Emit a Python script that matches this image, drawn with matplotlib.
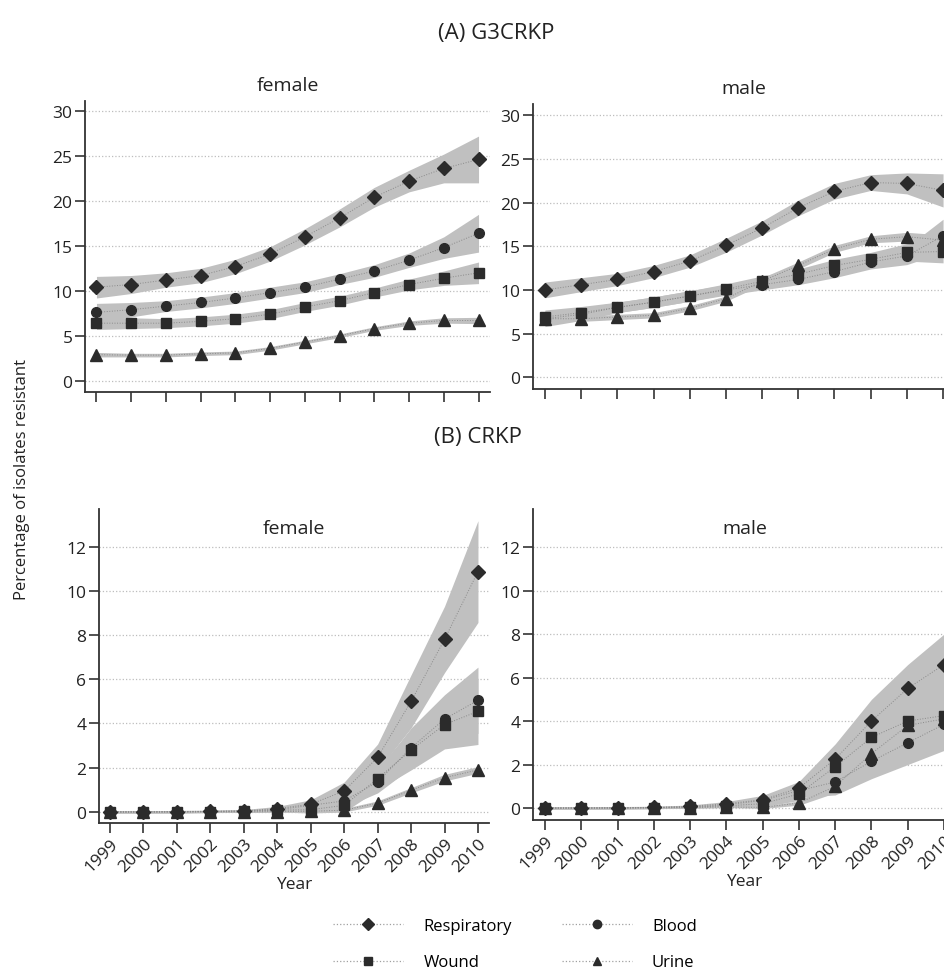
import matplotlib.pyplot as plt
from matplotlib.lines import Line2D
import numpy as np

plt.rcParams['font.family'] = ['Open Sans', 'DejaVu Sans']

years = np.arange(1999, 2011)
series = ['Respiratory', 'Blood', 'Wound', 'Urine']
markers = {'Respiratory': 'D', 'Blood': 'o', 'Wound': 's', 'Urine': '^'}
msizes = {'Respiratory': 7, 'Blood': 7, 'Wound': 7, 'Urine': 8}

# (A) G3CRKP, female
g3_f_resp = [10.4, 10.7, 11.2, 11.7, 12.7, 14.1, 16.0, 18.1, 20.4, 22.2, 23.6, 24.6]
g3_f_blood = [7.6, 7.9, 8.3, 8.7, 9.2, 9.8, 10.4, 11.3, 12.2, 13.4, 14.8, 16.4]
g3_f_wound = [6.4, 6.4, 6.4, 6.6, 6.9, 7.4, 8.2, 8.9, 9.8, 10.7, 11.4, 12.0]
g3_f_urine = [2.9, 2.85, 2.85, 3.0, 3.1, 3.6, 4.3, 5.0, 5.8, 6.4, 6.7, 6.7]
# half-widths of the shaded bands
g3_f_resp_w = [1.2, 1.0, 0.8, 0.8, 0.8, 0.8, 0.9, 1.0, 1.1, 1.2, 1.6, 2.6]
g3_f_blood_w = [1.0, 0.8, 0.6, 0.6, 0.6, 0.6, 0.6, 0.6, 0.7, 0.8, 1.2, 2.1]
g3_f_wound_w = [0.7, 0.6, 0.5, 0.5, 0.5, 0.5, 0.5, 0.5, 0.5, 0.6, 0.8, 1.2]
g3_f_urine_w = [0.25, 0.2, 0.2, 0.2, 0.2, 0.2, 0.2, 0.2, 0.2, 0.25, 0.3, 0.35]

# (A) G3CRKP, male
g3_m_resp = [10.0, 10.6, 11.2, 12.1, 13.3, 15.1, 17.1, 19.4, 21.3, 22.3, 22.2, 21.4]
g3_m_blood = [6.7, 7.2, 8.0, 8.6, 9.3, 10.0, 10.6, 11.2, 12.1, 13.2, 13.9, 16.2]
g3_m_wound = [6.9, 7.4, 8.0, 8.6, 9.3, 10.1, 11.0, 11.8, 12.8, 13.5, 14.3, 14.4]
g3_m_urine = [6.7, 6.7, 6.9, 7.1, 7.9, 9.0, 11.0, 12.8, 14.7, 15.8, 16.1, 15.7]
g3_m_resp_w = [0.9, 0.8, 0.7, 0.7, 0.7, 0.8, 0.8, 0.9, 0.9, 0.9, 1.2, 1.9]
g3_m_blood_w = [0.9, 0.7, 0.6, 0.6, 0.6, 0.6, 0.6, 0.6, 0.7, 0.8, 1.0, 1.9]
g3_m_wound_w = [0.8, 0.7, 0.6, 0.6, 0.6, 0.6, 0.6, 0.6, 0.7, 0.8, 1.0, 1.3]
g3_m_urine_w = [0.4, 0.3, 0.3, 0.3, 0.3, 0.3, 0.4, 0.4, 0.4, 0.4, 0.5, 0.6]

# (B) CRKP, female
cr_f_resp = [0.0, 0.0, 0.02, 0.03, 0.05, 0.15, 0.35, 0.95, 2.47, 5.0, 7.8, 10.87]
cr_f_blood = [0.0, 0.0, 0.0, 0.02, 0.04, 0.1, 0.3, 0.5, 1.36, 2.9, 4.2, 5.05]
cr_f_wound = [0.0, 0.0, 0.0, 0.02, 0.03, 0.08, 0.1, 0.3, 1.5, 2.8, 3.95, 4.55]
cr_f_urine = [0.0, 0.0, 0.0, 0.0, 0.0, 0.02, 0.03, 0.08, 0.4, 0.98, 1.55, 1.9]
cr_f_resp_w = [0.05, 0.05, 0.05, 0.05, 0.06, 0.1, 0.2, 0.4, 0.6, 1.2, 1.5, 2.3]
cr_f_blood_w = [0.05, 0.05, 0.05, 0.05, 0.05, 0.08, 0.15, 0.3, 0.5, 0.9, 1.1, 1.5]
cr_f_wound_w = [0.05, 0.05, 0.05, 0.05, 0.05, 0.08, 0.15, 0.3, 0.5, 0.9, 1.1, 1.5]
cr_f_urine_w = [0.02, 0.02, 0.02, 0.02, 0.02, 0.03, 0.05, 0.08, 0.1, 0.12, 0.15, 0.15]

# (B) CRKP, male
cr_m_resp = [0.0, 0.0, 0.02, 0.03, 0.08, 0.2, 0.38, 0.92, 2.25, 4.0, 5.5, 6.6]
cr_m_blood = [0.0, 0.0, 0.0, 0.02, 0.05, 0.15, 0.35, 0.8, 1.2, 2.15, 3.0, 3.85]
cr_m_wound = [0.0, 0.0, 0.0, 0.02, 0.04, 0.1, 0.2, 0.65, 1.9, 3.25, 4.0, 4.25]
cr_m_urine = [0.0, 0.0, 0.0, 0.0, 0.02, 0.05, 0.03, 0.23, 1.0, 2.5, 3.8, 4.1]
cr_m_resp_w = [0.05, 0.05, 0.05, 0.05, 0.06, 0.1, 0.2, 0.3, 0.7, 1.0, 1.1, 1.4]
cr_m_blood_w = [0.05, 0.05, 0.05, 0.05, 0.05, 0.08, 0.15, 0.3, 0.6, 0.8, 1.0, 1.2]
cr_m_wound_w = [0.05, 0.05, 0.05, 0.05, 0.05, 0.08, 0.15, 0.3, 0.6, 0.8, 1.0, 1.2]
cr_m_urine_w = [0.02, 0.02, 0.02, 0.02, 0.02, 0.03, 0.05, 0.1, 0.3, 0.6, 0.9, 1.2]

panels = [
    {'title': 'female', 'pos': [85/945, 1-393/970, 405/945, 291/970],
     'ylim': (-1.25, 31.1), 'yticks': [0, 5, 10, 15, 20, 25, 30], 'xlabels': False, 'title_in': False,
     'data': {'Respiratory': (g3_f_resp, g3_f_resp_w), 'Blood': (g3_f_blood, g3_f_blood_w),
              'Wound': (g3_f_wound, g3_f_wound_w), 'Urine': (g3_f_urine, g3_f_urine_w)}},
    {'title': 'male', 'pos': [533/945, 1-390/970, 422/945, 285/970],
     'ylim': (-1.35, 31.3), 'yticks': [0, 5, 10, 15, 20, 25, 30], 'xlabels': False, 'title_in': False,
     'data': {'Respiratory': (g3_m_resp, g3_m_resp_w), 'Blood': (g3_m_blood, g3_m_blood_w),
              'Wound': (g3_m_wound, g3_m_wound_w), 'Urine': (g3_m_urine, g3_m_urine_w)}},
    {'title': 'female', 'pos': [99/945, 1-824/970, 390/945, 314/970],
     'ylim': (-0.5, 13.7), 'yticks': [0, 2, 4, 6, 8, 10, 12], 'xlabels': True, 'title_in': True,
     'data': {'Respiratory': (cr_f_resp, cr_f_resp_w), 'Blood': (cr_f_blood, cr_f_blood_w),
              'Wound': (cr_f_wound, cr_f_wound_w), 'Urine': (cr_f_urine, cr_f_urine_w)}},
    {'title': 'male', 'pos': [533/945, 1-821/970, 423/945, 311/970],
     'ylim': (-0.55, 13.75), 'yticks': [0, 2, 4, 6, 8, 10, 12], 'xlabels': True, 'title_in': True,
     'data': {'Respiratory': (cr_m_resp, cr_m_resp_w), 'Blood': (cr_m_blood, cr_m_blood_w),
              'Wound': (cr_m_wound, cr_m_wound_w), 'Urine': (cr_m_urine, cr_m_urine_w)}},
]

fig = plt.figure(figsize=(9.45, 9.70), dpi=100)

for p in panels:
    ax = fig.add_axes(p['pos'])
    # bands first, then lines and markers on top
    for name in series:
        vals, w = p['data'][name]
        vals = np.array(vals)
        w = np.array(w)
        ax.fill_between(years, vals - w, vals + w, color='#c0c0c0', lw=0, zorder=2)
    for name in series:
        vals, w = p['data'][name]
        ax.plot(years, vals, color='#8a8a8a', lw=0.7, ls=':', zorder=3)
        ax.plot(years, vals, ls='none', marker=markers[name], ms=msizes[name],
                color='#2b2b2b', zorder=4)
    ax.set_xlim(1998.67, 2010.33)
    ax.set_ylim(*p['ylim'])
    ax.set_yticks(p['yticks'])
    ax.set_xticks(years)
    ax.grid(axis='y', color='#bdbdbd', ls=':', lw=0.9, zorder=1)
    for s in ['top', 'right']:
        ax.spines[s].set_visible(False)
    for s in ['left', 'bottom']:
        ax.spines[s].set_color('#333333')
        ax.spines[s].set_linewidth(1.3)
    ax.tick_params(axis='both', direction='out', length=7, width=1.2, color='#333333',
                   labelsize=12.5, labelcolor='#222222', pad=2)
    if p['xlabels']:
        ax.set_xticklabels([str(y) for y in years], rotation=45, ha='right',
                           rotation_mode='anchor', fontsize=12.5)
        ax.set_xlabel('Year', fontsize=12.5, color='#222222', labelpad=1)
    else:
        ax.set_xticklabels([])
    if p['title_in']:
        ax.text(0.5, 0.94, p['title'], transform=ax.transAxes, ha='center', va='center',
                fontsize=14, color='#222222')
    else:
        ax.set_title(p['title'], fontsize=14, color='#222222', pad=8)

fig.text(496/945, 1-34/970, '(A) G3CRKP', ha='center', va='center', fontsize=16, color='#222222')
fig.text(478/945, 1-438/970, '(B) CRKP', ha='center', va='center', fontsize=16, color='#222222')
fig.text(22/945, 1-480/970, 'Percentage of isolates resistant', rotation=90,
         ha='center', va='center', fontsize=12, color='#222222')

legend_names = ['Respiratory', 'Wound', 'Blood', 'Urine']
handles = [Line2D([], [], color='#a0a0a0', ls=':', lw=0.9, marker=markers[name], ms=6,
                  markerfacecolor='#2b2b2b', markeredgecolor='#2b2b2b')
           for name in legend_names]
fig.legend(handles, legend_names, ncol=2, frameon=False,
           loc='center', bbox_to_anchor=(515/945, 1-945/970), fontsize=12,
           handlelength=4.2, handletextpad=1.2, columnspacing=3.0, labelspacing=1.25)

fig.savefig('out.png', dpi=100)
